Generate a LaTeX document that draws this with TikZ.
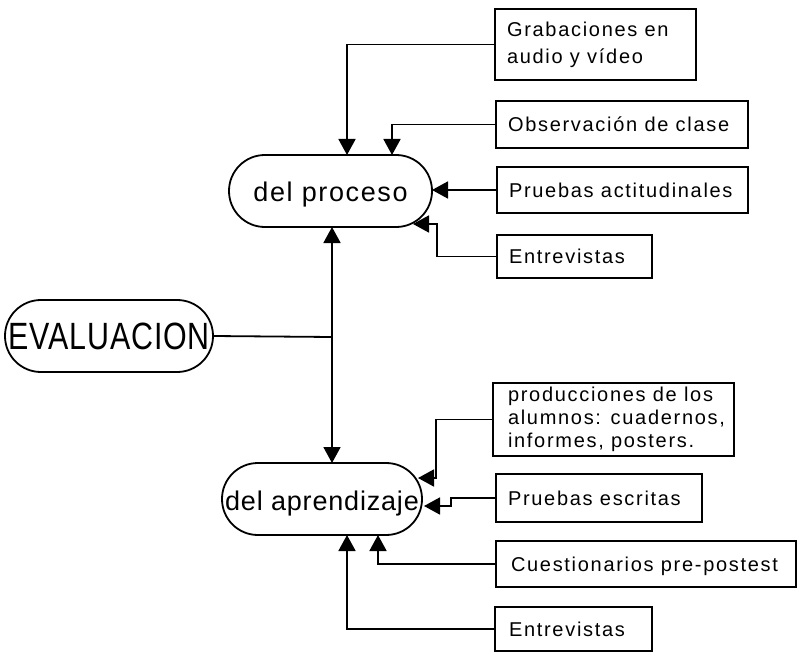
\documentclass[tikz,border=0pt]{standalone}
\usepackage{fontspec}
\usepackage{graphicx}
\setmainfont{Liberation Sans}
\newfontfamily\boxf{Liberation Sans}[LetterSpace=8.5]
\newfontfamily\ellf{Liberation Sans}[LetterSpace=3]
\newfontfamily\ellwf{Liberation Sans}[LetterSpace=6]
\newcommand\bxtxt[2]{\makebox[#1][l]{\begin{tabular}{@{}l@{}}#2\end{tabular}}}
\usetikzlibrary{arrows.meta}
\begin{document}
\begin{tikzpicture}[x=1pt,y=-1pt,
  boxn/.style={draw, line width=1.8pt, inner xsep=12pt, inner ysep=0pt, outer sep=0pt, font=\boxf\fontsize{20}{25}\selectfont},
  oneline/.style={text height=20pt, text depth=5pt},
  pill/.style={draw, line width=1.8pt, rounded corners=35.9pt, minimum height=72pt, inner sep=0pt, outer sep=0pt, font=\ellf\fontsize{27}{30}\selectfont},
  lowtext/.style={text height=22pt, text depth=0pt},
  conn/.style={line width=1.8pt},
  arr/.style={conn, -{Triangle[length=16pt,width=17pt]}}]
\useasboundingbox (0,0) rectangle (799,652);
\fill[white] (0,0) rectangle (799,652);
% main nodes
\node[pill, minimum width=208pt] (eval) at (109,336) {\scalebox{0.8}[1]{\fontsize{38}{38}\selectfont EVALUACION}};
\node[pill, lowtext, minimum width=203pt, font=\ellwf\fontsize{27}{30}\selectfont] (proc) at (330.5,191) {del proceso};
\node[pill, lowtext, minimum width=200pt] (apr) at (322,499) {del aprendizaje};
% upper boxes
\node[boxn, minimum width=201pt, minimum height=71pt, font=\boxf\fontsize{20}{27}\selectfont] (g1) at (595.5,44.5) {\bxtxt{177pt}{Grabaciones en\\audio y vídeo}};
\node[boxn, oneline, minimum width=252pt, minimum height=47pt] (g2) at (622,124.5) {\bxtxt{228pt}{Observación de clase}};
\node[boxn, oneline, minimum width=251pt, minimum height=46pt] (g3) at (622.5,190) {\bxtxt{227pt}{Pruebas actitudinales}};
\node[boxn, oneline, minimum width=155pt, minimum height=43pt] (g4) at (574.5,256.5) {\bxtxt{131pt}{Entrevistas}};
% lower boxes
\node[boxn, minimum width=241pt, minimum height=73pt, inner xsep=15pt, font=\boxf\fontsize{20}{23}\selectfont] (a1) at (613.5,419.5) {\bxtxt{211pt}{producciones de los\\alumnos: cuadernos,\\informes, posters.}};
\node[boxn, oneline, minimum width=206pt, minimum height=48pt] (a2) at (599,498) {\bxtxt{182pt}{Pruebas escritas}};
\node[boxn, oneline, minimum width=300pt, minimum height=46pt, inner xsep=15pt] (a3) at (646,564) {\bxtxt{270pt}{Cuestionarios pre-postest}};
\node[boxn, oneline, minimum width=157pt, minimum height=44pt, inner xsep=14pt] (a4) at (573.5,629) {\bxtxt{129pt}{Entrevistas}};
% connectors
\coordinate (J) at (332,337);
\draw[conn] (eval.east) -- (J);
\draw[arr] (J) -- (J |- proc.south);
\draw[arr] (J) -- (J |- apr.north);
\draw[arr] (g1.west) -| ([xshift=16.5pt]proc.north);
\draw[arr] (g2.west) -| ([xshift=61.5pt]proc.north);
\draw[arr] (g3.west) -- (g3.west -| proc.east);
\coordinate (t4) at (413,224);
\draw[arr] (g4.west) -- ++(-60,0) |- (t4);
\coordinate (t5) at (418,478);
\draw[arr] (a1.west) -- ++(-57,0) |- (t5);
\coordinate (t6) at (424,506);
\draw[arr] (a2.west) -- ++(-45,0) |- (t6);
\draw[arr] (a3.west) -| ([xshift=56pt]apr.south);
\draw[arr] (a4.west) -| ([xshift=25pt]apr.south);
\end{tikzpicture}
\end{document}
